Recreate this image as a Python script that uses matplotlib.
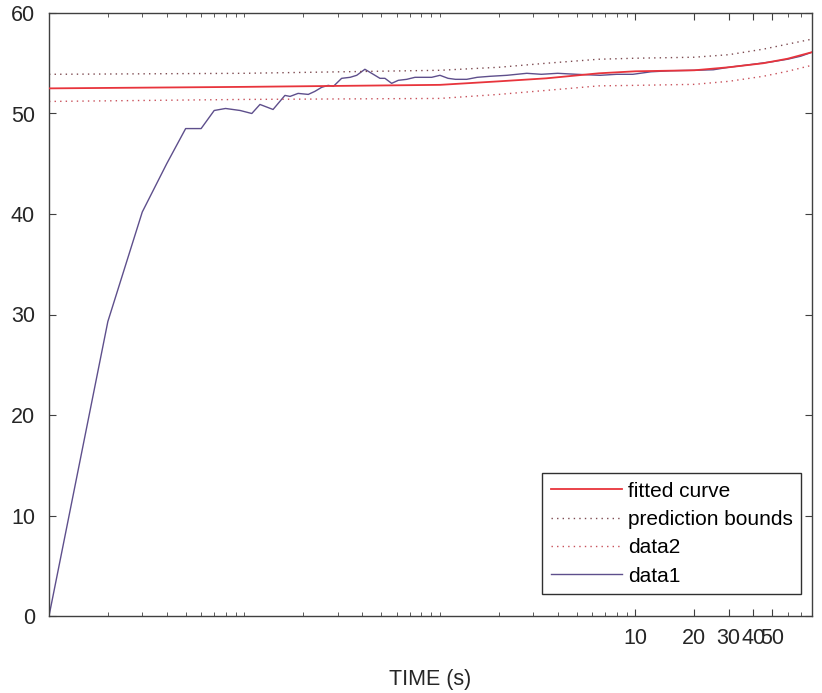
import matplotlib
matplotlib.use("Agg")
import matplotlib.pyplot as plt
from matplotlib.ticker import FixedLocator, LogLocator, NullFormatter

plt.rcParams['font.family'] = ['Liberation Sans', 'DejaVu Sans']

# measured data (data1)
t_data = [0.01, 0.02, 0.03, 0.04, 0.05, 0.06, 0.07, 0.08, 0.095, 0.109, 0.12, 0.14,
          0.161, 0.171, 0.188, 0.212, 0.229, 0.248, 0.268, 0.285, 0.314, 0.347, 0.375,
          0.413, 0.465, 0.493, 0.523, 0.566, 0.612, 0.676, 0.745, 0.806, 0.907, 1.0,
          1.1, 1.2, 1.37, 1.55, 1.8, 2.2, 2.78, 3.3, 4.0, 5.0, 6.6, 8.0, 9.7,
          12, 15, 20, 25, 30, 40, 50, 60, 70, 80]
v_data = [0.0, 29.3, 40.2, 45.0, 48.5, 48.5, 50.3, 50.5, 50.3, 50.0, 50.9, 50.4,
          51.8, 51.7, 52.0, 51.9, 52.2, 52.6, 52.8, 52.7, 53.5, 53.6, 53.8,
          54.4, 53.8, 53.5, 53.5, 53.0, 53.3, 53.4, 53.6, 53.6, 53.6, 53.8,
          53.5, 53.4, 53.4, 53.6, 53.7, 53.8, 54.0, 53.9, 54.0, 53.9, 53.8, 53.9, 53.9,
          54.15, 54.25, 54.3, 54.35, 54.6, 54.9, 55.15, 55.4, 55.7, 56.1]

# fitted curve and prediction bounds
t_fit = [0.01, 0.1, 1, 2, 3.5, 6.5, 10, 20, 30, 45, 60, 80]
v_fit = [52.5, 52.65, 52.85, 53.2, 53.5, 54.0, 54.2, 54.3, 54.6, 55.0, 55.45, 56.1]
v_upper = [53.9, 54.0, 54.3, 54.6, 55.0, 55.4, 55.5, 55.6, 55.85, 56.4, 56.9, 57.4]
v_lower = [51.2, 51.4, 51.5, 51.9, 52.3, 52.75, 52.8, 52.9, 53.2, 53.7, 54.2, 54.8]

xticks = [10, 20, 30, 40, 50]
yticks = [0, 10, 20, 30, 40, 50, 60]

fig = plt.figure(figsize=(8.22, 6.93), dpi=100)
ax = fig.add_axes([49 / 822, 77 / 693, 763 / 822, 603 / 693])

dots = (0, (1, 3))
h_data, = ax.plot(t_data, v_data, color='#5e4f8c', lw=1.0, label='data1', zorder=2)
h_fit, = ax.plot(t_fit, v_fit, color='#e8343c', lw=1.3, label='fitted curve', zorder=3)
h_pb, = ax.plot(t_fit, v_upper, color='#7d4a50', lw=1.0, ls=dots, label='prediction bounds')
h_d2, = ax.plot(t_fit, v_lower, color='#c8505a', lw=1.0, ls=dots, label='data2')

ax.set_xscale('log')
ax.set_xlim(0.01, 80)
ax.set_ylim(0, 60)
ax.xaxis.set_major_locator(FixedLocator(xticks))
ax.set_xticklabels([str(v) for v in xticks])
ax.xaxis.set_minor_locator(LogLocator(base=10, subs=range(1, 10), numticks=20))
ax.xaxis.set_minor_formatter(NullFormatter())
ax.set_yticks(yticks)

for s in ax.spines.values():
    s.set_color('#404040')
    s.set_linewidth(1.0)
ax.tick_params(which='both', direction='in', top=True, right=True, colors='#404040',
               labelcolor='#262626', labelsize=15.5)
ax.tick_params(axis='x', which='major', length=5, pad=9)
ax.tick_params(axis='y', which='major', length=5, pad=10)
ax.tick_params(which='minor', length=3)

ax.set_xlabel('TIME (s)', fontsize=15.5, color='#262626', labelpad=14)

leg = ax.legend(handles=[h_fit, h_pb, h_d2, h_data], loc='lower right',
                bbox_to_anchor=(0.9856, 0.0365), borderaxespad=0, fontsize=15,
                frameon=True, fancybox=False, edgecolor='#303030', framealpha=1,
                handlelength=3.4, handletextpad=0.3, labelspacing=0.45, borderpad=0.4)
leg.get_frame().set_linewidth(1.0)

fig.savefig('out.png', dpi=100)
